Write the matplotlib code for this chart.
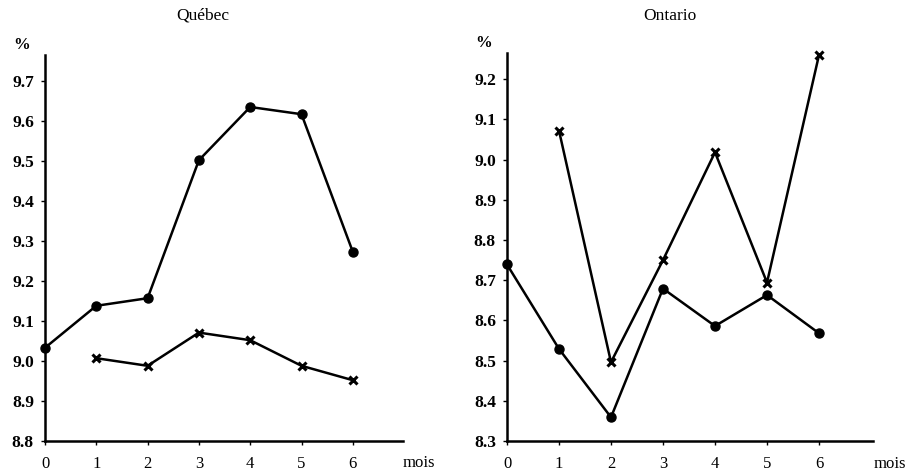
"""
Taux de chômage mensuel (%) - Québec et Ontario, mois 0 à 6.

Deux panneaux côte à côte, séries en cercles pleins et en croix,
style graphique imprimé (axes gauche/bas seulement, police serif).
"""

import matplotlib

matplotlib.use("Agg")  # headless
import matplotlib.pyplot as plt


# ---------- Data --------------------------------------------------------------

MONTHS = [0, 1, 2, 3, 4, 5, 6]
MONTHS_CROSS = [1, 2, 3, 4, 5, 6]

QC_DOTS = [9.033, 9.138, 9.157, 9.502, 9.635, 9.617, 9.273]
QC_CROSS = [9.007, 8.988, 9.071, 9.052, 8.988, 8.952]
QC_YTICKS = [8.8, 8.9, 9.0, 9.1, 9.2, 9.3, 9.4, 9.5, 9.6, 9.7]

ON_DOTS = [8.739, 8.529, 8.359, 8.679, 8.586, 8.663, 8.568]
ON_CROSS = [9.072, 8.496, 8.750, 9.018, 8.694, 9.260]
ON_YTICKS = [8.3, 8.4, 8.5, 8.6, 8.7, 8.8, 8.9, 9.0, 9.1, 9.2]


# ---------- Style -------------------------------------------------------------

plt.rcParams["font.family"] = ["Liberation Serif", "DejaVu Serif"]
FW, FH = 918, 474


def draw_panel(ax, title, title_x, dots, cross, yticks, ylim, xmax):
    ax.plot(MONTHS, dots, color="black", lw=1.8, marker="o", ms=6.5,
            clip_on=False, zorder=3)
    ax.plot(MONTHS_CROSS, cross, color="black", lw=1.8, marker="x", ms=6,
            mew=2.2, clip_on=False, zorder=3)

    ax.set_xlim(0, xmax)
    ax.set_ylim(*ylim)
    ax.set_xticks(MONTHS)
    ax.set_xticklabels([str(m) for m in MONTHS], fontsize=12)
    ax.set_yticks(yticks)
    ax.set_yticklabels([f"{v:.1f}" for v in yticks], fontsize=12.5,
                       fontweight="bold")

    for side in ("top", "right"):
        ax.spines[side].set_visible(False)
    for side in ("left", "bottom"):
        ax.spines[side].set_linewidth(1.8)
    ax.tick_params(axis="y", direction="out", length=3, width=1, pad=5)
    ax.tick_params(axis="x", direction="out", length=3, width=1, pad=8)

    # titles sit on the same line for both panels
    fig.text(title_x / FW, 1 - 16 / FH, title, fontsize=12.5,
             ha="center", va="center")
    ax.text(-0.065, 1.025, "%", transform=ax.transAxes, fontsize=12,
            fontweight="bold", ha="center", va="center")
    ax.text(1.045, -0.058, "mois", transform=ax.transAxes, fontsize=12,
            ha="center", va="center")


# ---------- Figure ------------------------------------------------------------

fig = plt.figure(figsize=(FW / 100, FH / 100), dpi=100)

ax_qc = fig.add_axes([45 / FW, 1 - 441 / FH, 358 / FW, 386 / FH])
draw_panel(ax_qc, "Québec", 203, QC_DOTS, QC_CROSS, QC_YTICKS,
           (8.8, 9.765), 358 / 51.3)

ax_on = fig.add_axes([507 / FW, 1 - 441 / FH, 366 / FW, 388 / FH])
draw_panel(ax_on, "Ontario", 670, ON_DOTS, ON_CROSS, ON_YTICKS,
           (8.3, 9.265), 366 / 52.0)

fig.savefig("out.png", dpi=100)
